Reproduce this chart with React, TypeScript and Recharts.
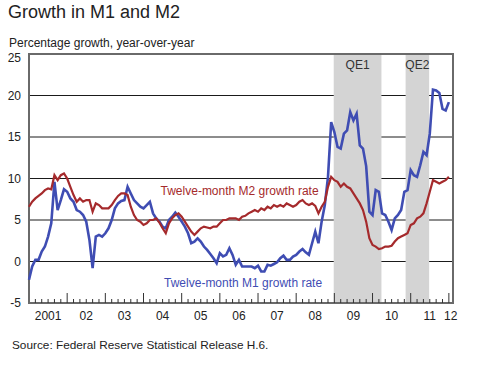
import React from "react";
import {
  LineChart, Line, XAxis, YAxis, CartesianGrid,
  ReferenceArea, ReferenceDot, Label,
} from "recharts";

// monthly, Jan 2001 = 0
const m1Growth = [
  -2.2, -0.6, 0.2, 0.2, 1.2, 1.8, 3.0, 4.6, 9.6, 6.2, 7.4, 8.7,
  8.4, 7.6, 7.2, 6.2, 6.0, 5.6, 4.8, 2.6, -0.8, 3.0, 3.2, 3.0,
  3.4, 4.0, 5.0, 6.4, 7.0, 7.3, 7.4, 9.0, 8.2, 7.4, 7.0, 6.6,
  6.4, 6.8, 7.2, 5.8, 5.2, 4.8, 4.2, 4.0, 5.0, 5.4, 5.9, 5.4,
  4.8, 4.2, 3.4, 2.2, 2.4, 2.8, 2.4, 1.8, 1.4, 0.9, 0.4, -0.2,
  1.0, 0.6, 0.8, 1.6, 0.8, -0.4, 0.2, -0.6, -0.6, -0.6, -0.6, -0.8,
  -0.5, -1.2, -1.2, -0.4, -0.5, -0.3, -0.1, 0.4, 0.7, 0.2, 0.2, 0.6,
  0.8, 1.2, 1.5, 1.1, 0.8, 2.2, 3.6, 2.2, 4.8, 6.8, 10.2, 16.8,
  15.6, 13.8, 13.6, 15.4, 15.8, 18.0, 17.0, 17.8, 14.0, 13.6, 11.5, 6.0,
  5.6, 8.6, 8.4, 5.8, 5.6, 4.8, 3.8, 5.2, 5.6, 6.2, 8.4, 8.6,
  11.0, 10.4, 10.2, 11.6, 13.2, 12.8, 15.4, 20.7, 20.6, 20.3, 18.4, 18.2,
  19.2,
];

const m2Growth = [
  6.6, 7.2, 7.6, 7.9, 8.2, 8.6, 8.8, 8.7, 10.4, 9.8, 10.4, 10.6,
  10.0, 9.0, 8.0, 7.2, 7.6, 7.2, 7.4, 7.4, 6.0, 7.0, 6.8, 6.4,
  6.4, 6.4, 6.8, 7.4, 7.9, 8.2, 8.2, 8.0, 6.6, 5.6, 5.0, 4.8,
  4.4, 4.6, 5.0, 5.0, 5.2, 4.7, 4.0, 3.4, 4.6, 5.2, 5.6, 5.8,
  5.4, 4.8, 4.2, 3.6, 3.2, 3.6, 4.0, 4.2, 4.1, 4.0, 4.2, 4.2,
  4.6, 5.0, 5.0, 5.2, 5.2, 5.2, 5.0, 5.4, 5.5, 5.8, 6.0, 6.2,
  6.0, 6.4, 6.2, 6.6, 6.4, 6.8, 6.6, 6.8, 6.6, 7.0, 6.8, 6.6,
  6.8, 7.2, 7.4, 7.0, 6.8, 7.0, 6.7, 5.8, 6.6, 7.2, 9.0, 10.2,
  9.8, 9.6, 9.0, 9.4, 9.0, 8.8, 8.2, 7.6, 7.0, 6.2, 4.8, 2.8,
  2.0, 1.8, 1.5, 1.6, 1.8, 1.8, 1.9, 2.4, 2.8, 3.0, 3.2, 3.4,
  4.4, 4.6, 5.2, 5.4, 5.8, 7.0, 8.4, 9.8, 9.6, 9.4, 9.6, 9.8,
  10.2,
];

const yearLabels = ["2001", "02", "03", "04", "05", "06", "07", "08", "09", "10", "11", "12"];
const yTicks = [-5, 0, 5, 10, 15, 20, 25];

const qePeriods = [
  { name: "QE1", start: 95.8, end: 110.8 },
  { name: "QE2", start: 118.4, end: 125.8 },
];

const X_MAX = 133.3;
const BLUE = "#3f4db3";
const RED = "#a52a2c";
const FONT = "'Liberation Sans', Arial, sans-serif";

const data = m1Growth.map((v, i) => ({ m: i, m1: v, m2: m2Growth[i] }));

// bi-monthly tick marks plus the year labels (mid-year, last one at the edge)
const labelPos = yearLabels.map((_, i) => (i < 11 ? i * 12 + 6 : 132.6));
const markPos = Array.from({ length: 66 }, (_, i) => (i + 1) * 2);
const xTicks = Array.from(new Set([...markPos, ...labelPos])).sort((a, b) => a - b);

const MonthTick = (props: any) => {
  const { x, y, payload } = props;
  const v = payload.value;
  const li = labelPos.indexOf(v);
  const isMark = Number.isInteger(v);
  const h = v % 12 === 0 ? 10 : 4;
  return (
    <g>
      {isMark && <line x1={x} x2={x} y1={y} y2={y - h} stroke="#333" strokeWidth={1} />}
      {li >= 0 && (
        <text x={x} y={y + 17} textAnchor="middle" fill="#222" fontSize={12} fontFamily={FONT}>
          {yearLabels[li]}
        </text>
      )}
    </g>
  );
};

// top label sits a little under the frame in the original
const ValueTick = (props: any) => {
  const { x, y, payload } = props;
  const dy = payload.value === 25 ? 4 : 0;
  return (
    <text x={x} y={y + dy} dy="0.355em" textAnchor="end" fill="#222" fontSize={12} fontFamily={FONT}>
      {payload.value}
    </text>
  );
};

export default function App() {
  return (
    <div style={{ position: "absolute", left: 0, top: 0, width: 479, height: 367, background: "#fff", fontFamily: FONT, color: "#222" }}>
      <div style={{ position: "absolute", left: 8, top: 2, fontSize: 18 }}>Growth in M1 and M2</div>
      <div style={{ position: "absolute", left: 9, top: 36, fontSize: 12 }}>Percentage growth, year-over-year</div>
      <div style={{ position: "absolute", left: 12, top: 338, fontSize: 11.8 }}>Source: Federal Reserve Statistical Release H.6.</div>
      <div style={{ position: "absolute", left: 0, top: 0 }}>
        <LineChart width={479} height={367} data={data} margin={{ top: 54, right: 26, bottom: 34, left: 8 }}>
          {qePeriods.map((q) => (
            <ReferenceArea key={q.name} x1={q.start} x2={q.end} y1={-5} y2={25} fill="#d4d4d4" fillOpacity={1} stroke="none"
              label={{ value: q.name, position: "insideTop", offset: 6, fill: "#333", fontSize: 12, fontFamily: FONT }} />
          ))}
          <CartesianGrid vertical={false} stroke="#1a1a1a" strokeWidth={1} />
          <XAxis dataKey="m" type="number" domain={[0, X_MAX]} ticks={xTicks} interval={0} height={30}
            axisLine={false} tickLine={false} tickSize={0} tickMargin={0} tick={<MonthTick />} />
          <YAxis type="number" domain={[-5, 25]} ticks={yTicks} width={21} axisLine={false} tickLine={false}
            tickSize={0} tickMargin={8} tick={<ValueTick />} />
          <Line type="linear" dataKey="m1" stroke={BLUE} strokeWidth={2.6} dot={false} isAnimationActive={false} />
          <Line type="linear" dataKey="m2" stroke={RED} strokeWidth={2.2} dot={false} isAnimationActive={false} />
          <ReferenceDot x={66.2} y={8.5} r={0} fill="none" stroke="none">
            <Label value="Twelve-month M2 growth rate" position="center" fill={RED} fontSize={12} fontFamily={FONT} />
          </ReferenceDot>
          <ReferenceDot x={67.3} y={-2.6} r={0} fill="none" stroke="none">
            <Label value="Twelve-month M1 growth rate" position="center" fill={BLUE} fontSize={12} fontFamily={FONT} />
          </ReferenceDot>
          <ReferenceArea x1={0} x2={X_MAX} y1={-5} y2={25} fill="none" stroke="#6a6a6a" strokeWidth={2} ifOverflow="visible" />
        </LineChart>
      </div>
    </div>
  );
}
